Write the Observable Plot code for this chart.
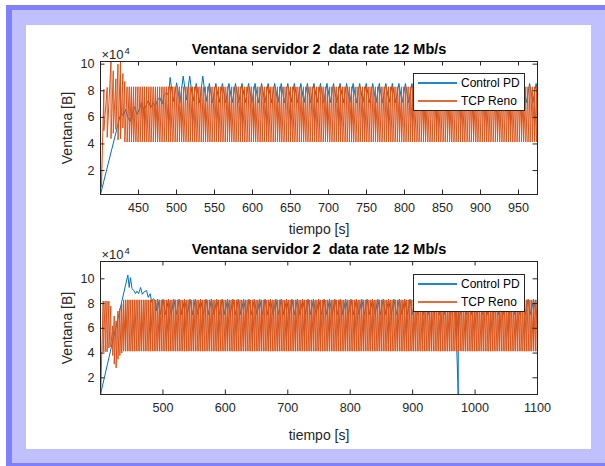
<!DOCTYPE html>
<html><head><meta charset="utf-8">
<script src="https://cdn.jsdelivr.net/npm/d3@7"></script>
<script src="https://cdn.jsdelivr.net/npm/@observablehq/plot@0.6"></script>
<style>
html,body{margin:0;padding:0;background:#fff;width:605px;height:466px;overflow:hidden;font-family:"Liberation Sans",Arial,Helvetica,sans-serif}
#outer{position:absolute;left:6px;top:5px;width:700px;height:461px;background:#8080ff}
#lav{position:absolute;left:12px;top:10px;width:700px;height:453px;background:#c0c0ff}
#panel{position:absolute;left:26px;top:25px;width:565px;height:424px;background:#fff}
.plotwrap{position:absolute;left:0}
svg text{white-space:pre}
.legbox{position:absolute;border:1px solid #262626;background:#fff;box-sizing:border-box}
.legline{position:absolute;height:2px;opacity:0.85}
.legtext{position:absolute;font-size:12px;line-height:14px;color:#000;white-space:nowrap}
</style></head>
<body>
<div id="outer"></div><div id="lav"></div><div id="panel"></div>
<div id="p1" class="plotwrap" style="top:0px"></div>
<div id="p2" class="plotwrap" style="top:240px"></div>
<div id="legends"></div>
<script>
// ---------- labels, ticks, colours ----------
const titleText = "Ventana servidor 2  data rate 12 Mb/s";
const xLabelText = "tiempo [s]";
const yLabelText = "Ventana [B]";
const seriesNames = ["Control PD", "TCP Reno"];
const seriesColors = ["#0072BD", "#D95319"];

const topXDomain = [400, 975];
const topYDomain = [2000, 102000];
const topXTicks = [450, 500, 550, 600, 650, 700, 750, 800, 850, 900, 950];
const topYTicks = [20000, 40000, 60000, 80000, 100000];

const botXDomain = [400, 1100];
const botYDomain = [6500, 114000];
const botXTicks = [500, 600, 700, 800, 900, 1000, 1100];
const botYTicks = [20000, 40000, 60000, 80000, 100000];

// ---------- TOP: Control PD ----------
const topPdT = [400, 424, 427, 430, 433, 436, 439, 442, 445, 448, 451, 454, 457, 460, 463, 466, 469, 472, 475, 478, 481, 484, 487, 489.5, 491.6, 495.9, 500.2, 504.5, 508.8, 513.1, 517.4, 521.7, 526, 530.3, 534.6, 538.9, 975];
const topPdV = [2000, 57000, 64000, 61000, 66000, 60000, 57000, 63000, 68000, 62000, 66000, 71000, 65000, 69000, 73000, 67000, 71000, 68000, 73000, 75000, 70000, 77000, 79000, 76000, 90000, 72000, 86000, 71000, 91000, 73000, 91000, 72000, 85500, 71000, 91000, 72000, 78000];
const topPdPeakT = [543.2, 551.8, 560.4, 569, 577.6, 586.2, 594.8, 603.4, 612, 620.6, 629.2, 637.8, 646.4, 655, 663.6, 672.2, 680.8, 689.4, 698, 706.6, 715.2, 723.8, 732.4, 741, 749.6, 758.2, 766.8, 775.4, 784, 792.6, 801.2, 809.8, 818.4, 827, 835.6, 844.2, 852.8, 861.4, 870, 878.6, 887.2, 895.8, 904.4, 913, 921.6, 930.2, 938.8, 947.4, 956, 964.6, 973.2];
const topPdTroughT = [547.5, 556.1, 564.7, 573.3, 581.9, 590.5, 599.1, 607.7, 616.3, 624.9, 633.5, 642.1, 650.7, 659.3, 667.9, 676.5, 685.1, 693.7, 702.3, 710.9, 719.5, 728.1, 736.7, 745.3, 753.9, 762.5, 771.1, 779.7, 788.3, 796.9, 805.5, 814.1, 822.7, 831.3, 839.9, 848.5, 857.1, 865.7, 874.3, 882.9, 891.5, 900.1, 908.7, 917.3, 925.9, 934.5, 943.1, 951.7, 960.3, 968.9];
const topPdPeak = 85500, topPdTrough = 71000;

// ---------- TOP: TCP Reno ----------
const topRenoT = [400, 401.3, 404.4, 404.4, 408.8, 408.8, 413.8, 413.8, 416.8, 416.8, 420.2, 420.2, 423, 423, 426.3, 426.3, 429.4, 429.4, 432, 432, 975];
const topRenoV = [30000, 7500, 81000, 50000, 82500, 45000, 102000, 44000, 95000, 48000, 89000, 51000, 100000, 43000, 102000, 44000, 93000, 52000, 87000, 41500, 57000];
const topRenoDropT = [435, 437.9, 440.7, 443.6, 446.5, 449.3, 452.2, 455.1, 457.9, 460.8, 463.7, 466.5, 469.4, 472.3, 475.1, 478, 480.9, 483.7, 486.6, 489.5, 492.3, 495.2, 498.1, 500.9, 503.8, 506.7, 509.5, 512.4, 515.3, 518.1, 521, 523.9, 526.7, 529.6, 532.5, 535.3, 538.2, 541.1, 543.9, 546.8, 549.7, 552.5, 555.4, 558.3, 561.1, 564, 566.9, 569.7, 572.6, 575.5, 578.3, 581.2, 584.1, 586.9, 589.8, 592.7, 595.5, 598.4, 601.3, 604.1, 607, 609.9, 612.7, 615.6, 618.5, 621.3, 624.2, 627.1, 629.9, 632.8, 635.7, 638.5, 641.4, 644.3, 647.1, 650, 652.9, 655.7, 658.6, 661.5, 664.3, 667.2, 670.1, 672.9, 675.8, 678.7, 681.5, 684.4, 687.3, 690.1, 693, 695.9, 698.7, 701.6, 704.5, 707.3, 710.2, 713.1, 715.9, 718.8, 721.7, 724.5, 727.4, 730.3, 733.1, 736, 738.9, 741.7, 744.6, 747.5, 750.3, 753.2, 756.1, 758.9, 761.8, 764.7, 767.5, 770.4, 773.3, 776.1, 779, 781.9, 784.7, 787.6, 790.5, 793.3, 796.2, 799.1, 801.9, 804.8, 807.7, 810.5, 813.4, 816.3, 819.1, 822, 824.9, 827.7, 830.6, 833.5, 836.3, 839.2, 842.1, 844.9, 847.8, 850.7, 853.5, 856.4, 859.3, 862.1, 865, 867.9, 870.7, 873.6, 876.5, 879.3, 882.2, 885.1, 887.9, 890.8, 893.7, 896.5, 899.4, 902.3, 905.1, 908, 910.9, 913.7, 916.6, 919.5, 922.3, 925.2, 928.1, 930.9, 933.8, 936.7, 939.5, 942.4, 945.3, 948.1, 951, 953.9, 956.7, 959.6, 962.5, 965.3, 968.2, 971.1, 973.9];
const renoHigh = 83000, renoLow = 41500;

// ---------- BOTTOM: Control PD ----------
const botPdT = [400, 443.8, 446, 448, 450.5, 453.5, 456, 458.5, 461, 464.2, 467, 470, 473.8, 476.5, 479.5, 482, 484.5, 487.7, 489.5, 973.0, 1100];
const botPdV = [6500, 103000, 93000, 101000, 92000, 90500, 88000, 90000, 88000, 93000, 87500, 89500, 90500, 85000, 88000, 81000, 84000, 82500, 74000, 6500, 76000];
const botPdPeakT = [491.6, 500.2, 508.8, 517.4, 526, 534.6, 543.2, 551.8, 560.4, 569, 577.6, 586.2, 594.8, 603.4, 612, 620.6, 629.2, 637.8, 646.4, 655, 663.6, 672.2, 680.8, 689.4, 698, 706.6, 715.2, 723.8, 732.4, 741, 749.6, 758.2, 766.8, 775.4, 784, 792.6, 801.2, 809.8, 818.4, 827, 835.6, 844.2, 852.8, 861.4, 870, 878.6, 887.2, 895.8, 904.4, 913, 921.6, 930.2, 938.8, 947.4, 956, 964.6, 973.2, 981.8, 990.4, 999, 1007.6, 1016.2, 1024.8, 1033.4, 1042, 1050.6, 1059.2, 1067.8, 1076.4, 1085, 1093.6];
const botPdTroughT = [495.9, 504.5, 513.1, 521.7, 530.3, 538.9, 547.5, 556.1, 564.7, 573.3, 581.9, 590.5, 599.1, 607.7, 616.3, 624.9, 633.5, 642.1, 650.7, 659.3, 667.9, 676.5, 685.1, 693.7, 702.3, 710.9, 719.5, 728.1, 736.7, 745.3, 753.9, 762.5, 771.1, 779.7, 788.3, 796.9, 805.5, 814.1, 822.7, 831.3, 839.9, 848.5, 857.1, 865.7, 874.3, 882.9, 891.5, 900.1, 908.7, 917.3, 925.9, 934.5, 943.1, 951.7, 960.3, 968.9, 977.5, 986.1, 994.7, 1003.3, 1011.9, 1020.5, 1029.1, 1037.7, 1046.3, 1054.9, 1063.5, 1072.1, 1080.7, 1089.3, 1097.9];
const botPdPeak = 83500, botPdTrough = 71000;

// ---------- BOTTOM: TCP Reno ----------
const botRenoT = [400, 400.3, 404.3, 404.3, 407.5, 407.5, 410.5, 410.5, 413.5, 413.5, 416.5, 416.5, 419.5, 419.5, 422, 422, 425, 425, 428, 428, 431, 431, 434, 434, 437, 437, 1099.9, 1100];
const botRenoV = [39000, 7000, 82000, 41000, 82000, 41000, 82000, 41000, 82000, 44000, 78000, 45000, 62000, 38000, 70000, 31000, 66000, 28000, 74000, 35000, 76000, 38000, 80000, 40000, 83000, 41500, 45000, 114000];
const botRenoDropT = [440, 442.9, 445.7, 448.6, 451.5, 454.3, 457.2, 460.1, 462.9, 465.8, 468.7, 471.5, 474.4, 477.3, 480.1, 483, 485.9, 488.7, 491.6, 494.5, 497.3, 500.2, 503.1, 505.9, 508.8, 511.7, 514.5, 517.4, 520.3, 523.1, 526, 528.9, 531.7, 534.6, 537.5, 540.3, 543.2, 546.1, 548.9, 551.8, 554.7, 557.5, 560.4, 563.3, 566.1, 569, 571.9, 574.7, 577.6, 580.5, 583.3, 586.2, 589.1, 591.9, 594.8, 597.7, 600.5, 603.4, 606.3, 609.1, 612, 614.9, 617.7, 620.6, 623.5, 626.3, 629.2, 632.1, 634.9, 637.8, 640.7, 643.5, 646.4, 649.3, 652.1, 655, 657.9, 660.7, 663.6, 666.5, 669.3, 672.2, 675.1, 677.9, 680.8, 683.7, 686.5, 689.4, 692.3, 695.1, 698, 700.9, 703.7, 706.6, 709.5, 712.3, 715.2, 718.1, 720.9, 723.8, 726.7, 729.5, 732.4, 735.3, 738.1, 741, 743.9, 746.7, 749.6, 752.5, 755.3, 758.2, 761.1, 763.9, 766.8, 769.7, 772.5, 775.4, 778.3, 781.1, 784, 786.9, 789.7, 792.6, 795.5, 798.3, 801.2, 804.1, 806.9, 809.8, 812.7, 815.5, 818.4, 821.3, 824.1, 827, 829.9, 832.7, 835.6, 838.5, 841.3, 844.2, 847.1, 849.9, 852.8, 855.7, 858.5, 861.4, 864.3, 867.1, 870, 872.9, 875.7, 878.6, 881.5, 884.3, 887.2, 890.1, 892.9, 895.8, 898.7, 901.5, 904.4, 907.3, 910.1, 913, 915.9, 918.7, 921.6, 924.5, 927.3, 930.2, 933.1, 935.9, 938.8, 941.7, 944.5, 947.4, 950.3, 953.1, 956, 958.9, 961.7, 964.6, 967.5, 970.3, 973.2, 976.1, 978.9, 981.8, 984.7, 987.5, 990.4, 993.3, 996.1, 999, 1001.9, 1004.7, 1007.6, 1010.5, 1013.3, 1016.2, 1019.1, 1021.9, 1024.8, 1027.7, 1030.5, 1033.4, 1036.3, 1039.1, 1042, 1044.9, 1047.7, 1050.6, 1053.5, 1056.3, 1059.2, 1062.1, 1064.9, 1067.8, 1070.7, 1073.5, 1076.4, 1079.3, 1082.1, 1085, 1087.9, 1090.7, 1093.6, 1096.5, 1099.3];

// ---------- table builders ----------
const pts = (T, V) => T.map((t, i) => ({t, v: V[i]}));
const lvl = (T, v) => T.map(t => ({t, v}));
const drops = (T, hi, lo) => T.flatMap(t => [{t, v: hi}, {t, v: lo}]);
const byTime = arr => arr.map((d, i) => ({...d, i})).sort((a, b) => a.t - b.t || a.i - b.i);

const topPd = byTime([...pts(topPdT, topPdV), ...lvl(topPdPeakT, topPdPeak), ...lvl(topPdTroughT, topPdTrough)]);
const topReno = byTime([...pts(topRenoT, topRenoV), ...drops(topRenoDropT, renoHigh, renoLow)]);
const botPd = byTime([...pts(botPdT, botPdV), ...lvl(botPdPeakT, botPdPeak), ...lvl(botPdTroughT, botPdTrough)]);
const botReno = byTime([...pts(botRenoT, botRenoV), ...drops(botRenoDropT, renoHigh, renoLow)]);

const AX = "#262626";
function panel({xDomain, yDomain, xTicks, yTicks, pd, reno, height, mt, mb, xLabelDy}) {
  const ml = 100, mr = 68, W = 605;
  const fh = height - mt - mb, fw = W - ml - mr, tl = 4.5;
  return Plot.plot({
    width: W, height, marginLeft: ml, marginRight: mr, marginTop: mt, marginBottom: mb,
    style: {background: "none", overflow: "visible", fontFamily: '"Liberation Sans", Arial, Helvetica, sans-serif', fontSize: "12.6px", color: AX},
    x: {domain: xDomain, ticks: xTicks, tickSize: 0, tickPadding: 9, tickFormat: d => String(d), label: null},
    y: {domain: yDomain, ticks: yTicks, tickSize: 0, tickPadding: 6, tickFormat: d => String(d / 1e4), label: null},
    marks: [
      Plot.line(pd, {x: "t", y: "v", stroke: seriesColors[0], strokeWidth: 1, clip: true}),
      Plot.line(reno, {x: "t", y: "v", stroke: seriesColors[1], strokeWidth: 1, clip: true}),
      Plot.tickX(xTicks, {x: d => d, insetTop: fh - tl, stroke: AX}),
      Plot.tickX(xTicks, {x: d => d, insetBottom: fh - tl, stroke: AX}),
      Plot.tickY(yTicks, {y: d => d, insetLeft: fw - tl, stroke: AX}),
      Plot.tickY(yTicks, {y: d => d, insetRight: fw - tl, stroke: AX}),
      Plot.frame({stroke: AX}),
      Plot.text([titleText], {frameAnchor: "top", lineAnchor: "bottom", dy: -7.5, fontWeight: "bold", fontSize: 14.5, fill: "#000"}),
      Plot.text([xLabelText], {frameAnchor: "bottom", lineAnchor: "bottom", dy: xLabelDy, fontSize: 14, fill: AX}),
      Plot.text([yLabelText], {frameAnchor: "left", textAnchor: "middle", rotate: -90, lineAnchor: "middle", dx: -32.5, fontSize: 14, fill: AX}),
      Plot.text(["×10"], {frameAnchor: "top-left", textAnchor: "start", lineAnchor: "bottom", dx: 1, dy: -2.5, fontSize: 13, fill: AX}),
      Plot.text(["4"], {frameAnchor: "top-left", textAnchor: "start", lineAnchor: "bottom", dx: 24, dy: -8, fontSize: 9.5, fill: AX})
    ]
  });
}

document.getElementById("p1").append(panel({xDomain: topXDomain, yDomain: topYDomain, xTicks: topXTicks, yTicks: topYTicks, pd: topPd, reno: topReno, height: 240, mt: 61, mb: 46, xLabelDy: 39}));
document.getElementById("p2").append(panel({xDomain: botXDomain, yDomain: botYDomain, xTicks: botXTicks, yTicks: botYTicks, pd: botPd, reno: botReno, height: 220, mt: 21, mb: 66, xLabelDy: 45}));

// ---------- legends ----------
function legend(top) {
  const box = document.createElement("div");
  box.className = "legbox";
  Object.assign(box.style, {left: "413px", top: top + "px", width: "112px", height: "38px"});
  document.getElementById("legends").append(box);
  seriesNames.forEach((name, i) => {
    const y = Math.round(top + 10 + i * 17.5);
    const ln = document.createElement("div");
    ln.className = "legline";
    Object.assign(ln.style, {left: "418px", top: (y - 1) + "px", width: "39px", background: seriesColors[i]});
    const tx = document.createElement("div");
    tx.className = "legtext";
    tx.textContent = name;
    Object.assign(tx.style, {left: "461px", top: (y - 7) + "px"});
    document.getElementById("legends").append(ln, tx);
  });
}
legend(73);
legend(274);
</script>
</body></html>
